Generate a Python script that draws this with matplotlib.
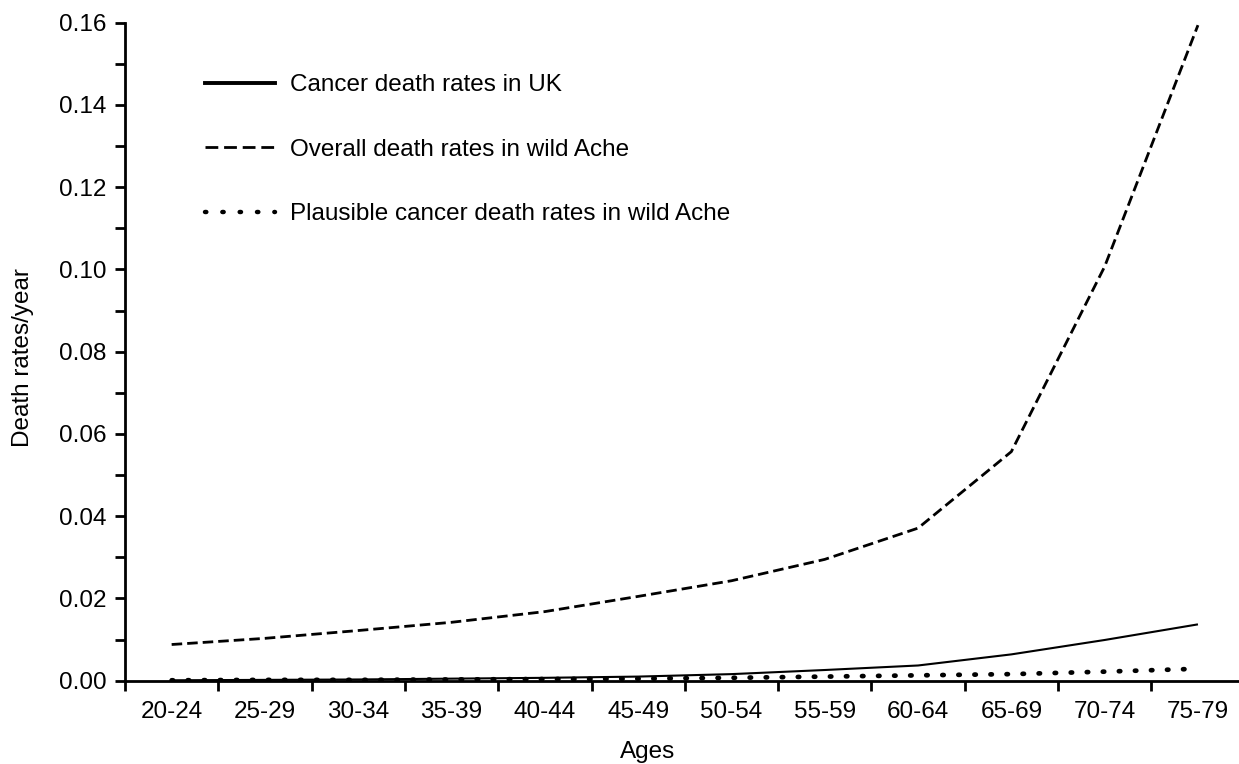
import matplotlib
matplotlib.use("Agg")
import matplotlib.pyplot as plt
from matplotlib.lines import Line2D
from matplotlib.ticker import MultipleLocator, FixedLocator
import numpy as np

plt.rcParams['font.family'] = ['Liberation Sans', 'DejaVu Sans']

# ---- data ----
age_groups = ["20-24", "25-29", "30-34", "35-39", "40-44", "45-49",
              "50-54", "55-59", "60-64", "65-69", "70-74", "75-79"]
cancer_uk = [0.0001, 0.0002, 0.0003, 0.0005, 0.0007, 0.0010,
             0.0016, 0.0026, 0.0037, 0.0064, 0.0099, 0.0137]
overall_ache = [0.0088, 0.0103, 0.0122, 0.0142, 0.0168, 0.0205,
                0.0243, 0.0295, 0.0371, 0.0557, 0.1007, 0.1594]
plausible_cancer_ache = [0.0001, 0.0002, 0.0002, 0.0003, 0.0004, 0.0005,
                         0.0007, 0.0010, 0.0013, 0.0016, 0.0022, 0.0029]
series_labels = ["Cancer death rates in UK",
                 "Overall death rates in wild Ache",
                 "Plausible cancer death rates in wild Ache"]
y_ticks = [0.00, 0.02, 0.04, 0.06, 0.08, 0.10, 0.12, 0.14, 0.16]

FS = 17.5
W, H = 1239, 764
fig = plt.figure(figsize=(W / 100, H / 100), dpi=100)
left_px, bottom_px, top_px = 125, 680.7, 22.7
ax = fig.add_axes([left_px / W, 1 - bottom_px / H,
                   (W - left_px) / W, (bottom_px - top_px) / H])

x = np.arange(len(age_groups))
ax.plot(x, cancer_uk, color='black', lw=1.5, solid_capstyle='butt')
ax.plot(x, overall_ache, color='black', lw=2.0, dashes=(3.8, 1.8))
ax.plot(x, plausible_cancer_ache, color='black', lw=3.4,
        dashes=(0.3, 3.1), dash_capstyle='round')

ax.set_xlim(-0.5, (W - left_px) / 93.3 - 0.5)
ax.set_ylim(0, 0.16)

for s in ['top', 'right']:
    ax.spines[s].set_visible(False)
for s in ['left', 'bottom']:
    ax.spines[s].set_linewidth(2.0)

ax.set_yticks(y_ticks)
ax.set_yticklabels([f"{v:.2f}" for v in y_ticks])
ax.yaxis.set_minor_locator(MultipleLocator(0.01))
ax.set_xticks(x)
ax.set_xticklabels(age_groups)
ax.xaxis.set_minor_locator(FixedLocator(np.arange(len(age_groups) + 1) - 0.5))

ax.tick_params(axis='y', which='both', direction='out', length=7, width=2.0,
               labelsize=FS, pad=6.5)
ax.tick_params(axis='x', which='major', length=0, labelsize=FS, pad=14.5)
ax.tick_params(axis='x', which='minor', direction='out', length=7, width=2.0)

ax.set_xlabel("Ages", fontsize=FS)
ax.set_ylabel("Death rates/year", fontsize=FS)
ax.xaxis.set_label_coords((648 - left_px) / (W - left_px), -(741 - bottom_px) / (bottom_px - top_px))
ax.yaxis.set_label_coords((34 - left_px) / (W - left_px), (bottom_px - 358) / (bottom_px - top_px))

handles = [
    Line2D([], [], color='black', lw=2.8),
    Line2D([], [], color='black', lw=2.0, dashes=(4.6, 2.1)),
    Line2D([], [], color='black', lw=3.2, dashes=(0.3, 3.6), dash_capstyle='round'),
]
ax.legend(handles, series_labels, loc='upper left',
          bbox_to_anchor=(205 / W, 1 - 74 / H), bbox_transform=fig.transFigure,
          frameon=False, fontsize=FS, handlelength=2.9, handletextpad=0.58,
          labelspacing=1.75, borderpad=0, borderaxespad=0)

fig.savefig("out.png", dpi=100)
